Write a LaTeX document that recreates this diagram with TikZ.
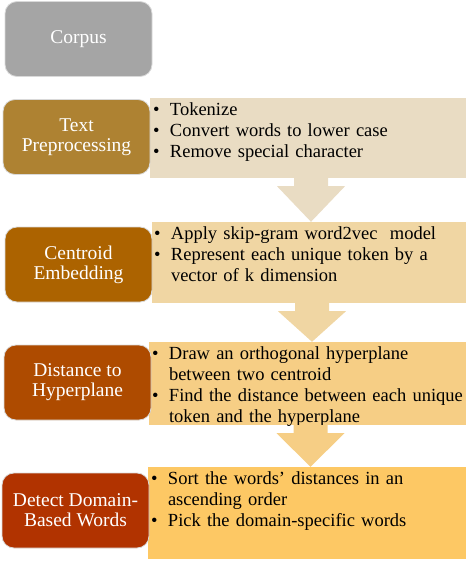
\documentclass[tikz,border=0pt]{standalone}
\usepackage{fontspec}
\setmainfont{Liberation Serif}
\usetikzlibrary{positioning, calc}

\definecolor{corpusgray}{HTML}{A5A5A5}
\definecolor{prepdark}{HTML}{AE8232}
\definecolor{preplight}{HTML}{E9DCC3}
\definecolor{centdark}{HTML}{AC6300}
\definecolor{centlight}{HTML}{F0D6A3}
\definecolor{distdark}{HTML}{AE4B00}
\definecolor{distlight}{HTML}{F6CE85}
\definecolor{detdark}{HTML}{B13300}
\definecolor{detlight}{HTML}{FDC864}

% one bullet point with hanging indent
\newcommand{\bitem}[1]{\hangindent=17pt\hangafter=1\noindent\makebox[17pt][l]{\textbullet}#1\par}
% block arrow from the bottom of one panel to the top of the next
\newcommand{\flowarrow}[3]{%
  \fill[#3] let \p1=(#1.south), \p2=(#2.north) in
    (\x1-14pt,\y1) -- (\x1-14pt,\y1-8pt) -- (\x1-31pt,\y1-8pt) -- (\x1+3pt,\y2)
    -- (\x1+37pt,\y1-8pt) -- (\x1+20pt,\y1-8pt) -- (\x1+20pt,\y1) -- cycle;}

\begin{document}
\begin{tikzpicture}[x=1pt, y=1pt,
    stage/.style={draw=white!85!black, line width=0.8pt, rounded corners=12pt,
      minimum width=147pt, minimum height=75pt, inner sep=2pt,
      text=white, align=center, font=\fontsize{19.5}{20}\selectfont},
    panel/.style={inner sep=0pt},
    notes/.style={anchor=north west, inner sep=0pt, text width=312pt, align=left,
      font=\fontsize{18.5}{21}\selectfont}]
    \useasboundingbox (0,0) rectangle (466,-563);
    % panels with the details
    \node[panel, fill=preplight, minimum width=316pt, minimum height=80pt] (preppanel) at (308,-138) {};
    \node[panel, fill=centlight, minimum width=314pt, minimum height=81pt] (centpanel) at (309,-262.5) {};
    \node[panel, fill=distlight, minimum width=317pt, minimum height=83pt] (distpanel) at (307.5,-383.5) {};
    \node[panel, fill=detlight, minimum width=318pt, minimum height=92pt] (detpanel) at (307,-513) {};
    \node[notes] (prepnotes) at ($(preppanel.north west)+(3,-5)$)
        {\bitem{Tokenize}\bitem{Convert words to lower case}\bitem{Remove special character}};
    \node[notes] (centnotes) at ($(centpanel.north west)+(2,-5)$)
        {\bitem{Apply skip-gram word2vec\ \ model}\bitem{Represent each unique token by a\newline vector of k dimension}};
    \node[notes] (distnotes) at ($(distpanel.north west)+(3,-5)$)
        {\bitem{Draw an orthogonal hyperplane\newline between two centroid}\bitem{Find the distance between each unique\newline token and the hyperplane}};
    \node[notes] (detnotes) at ($(detpanel.north west)+(3,-5)$)
        {\bitem{Sort the words’ distances in an\newline ascending order}\bitem{Pick the domain-specific words}};
    % arrows between the panels
    \flowarrow{preppanel}{centpanel}{preplight}
    \flowarrow{centpanel}{distpanel}{centlight}
    \flowarrow{distpanel}{detpanel}{distlight}
    % the stages
    \node[stage, fill=corpusgray] (corpus) at (78.5,-39) {Corpus};
    \node[stage, fill=prepdark] (prep) at (76.5,-137) {Text\\Preprocessing};
    \node[stage, fill=centdark] (cent) at (78.5,-264.5) {Centroid\\Embedding};
    \node[stage, fill=distdark] (dist) at (77.5,-382.5) {Distance to\\Hyperplane};
    \node[stage, fill=detdark] (det) at (75.5,-510.5) {Detect Domain-\\Based Words};
\end{tikzpicture}
\end{document}
